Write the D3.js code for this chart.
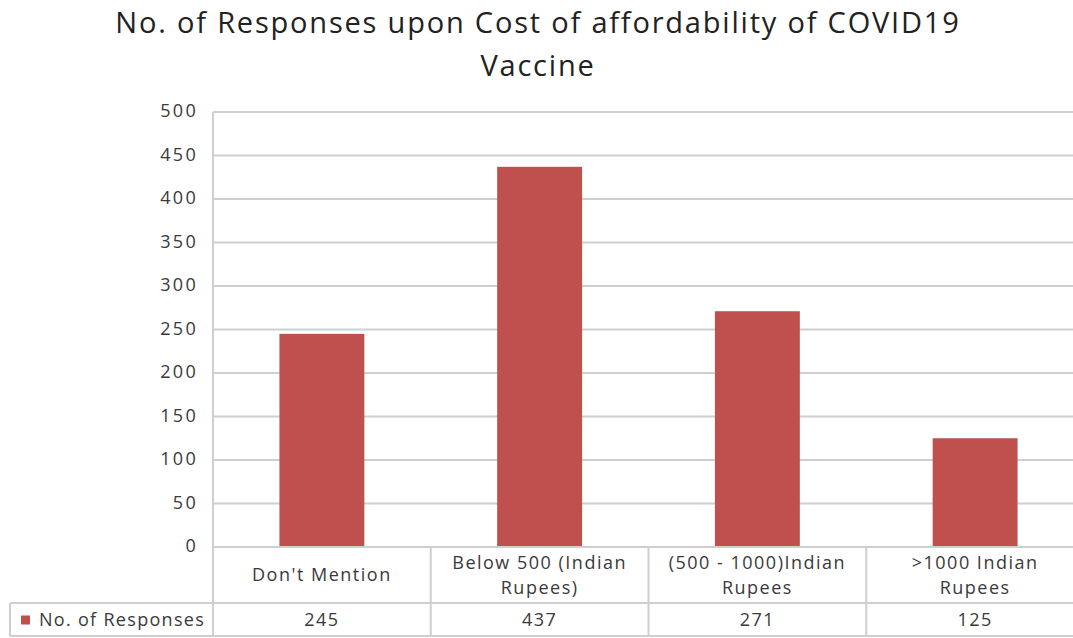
<!DOCTYPE html>
<html>
<head>
<meta charset="utf-8">
<script src="https://cdn.jsdelivr.net/npm/d3@7"></script>
<style>
  body { margin: 0; background: #fff; }
  svg { display: block; font-family: "Open Sans", sans-serif; }
</style>
</head>
<body>
<div class="chart"></div>
<script>
const WIDTH = 1073;
const HEIGHT = 638;

// data
var categories = [["Don't Mention"], ["Below 500 (Indian", "Rupees)"], ["(500 - 1000)Indian", "Rupees"], [">1000 Indian", "Rupees"]];
var values = [245, 437, 271, 125];
var seriesName = "No. of Responses";
var yTicks = [0, 50, 100, 150, 200, 250, 300, 350, 400, 450, 500];
var titleLines = ["No. of Responses upon Cost of affordability of COVID19", "Vaccine"];

var plotLeft = 213, plotRight = 1084, plotTop = 112, plotBottom = 547;
var tableMid = 603, tableBottom = 636, legendLeft = 10;
var gridColor = "#cfcfcf";
var textColor = "#3a3a3a";
var barColor = "#c0504d";

var svg = d3.select('.chart').append('svg')
    .attr('width', WIDTH)
    .attr('height', HEIGHT);

var x = d3.scaleBand()
    .domain(d3.range(values.length))
    .range([plotLeft, plotRight])
    .padding(0);

var y = d3.scaleLinear()
    .domain([0, 500])
    .range([plotBottom, plotTop]);

// title
svg.append("g").selectAll("text")
    .data(titleLines)
    .enter().append("text")
    .attr("x", 538)
    .attr("y", function (d, i) { return 33 + i * 43; })
    .attr("text-anchor", "middle")
    .attr("font-size", 29)
    .attr("letter-spacing", 1.8)
    .attr("fill", "#222")
    .text(function (d) { return d; });

// gridlines
svg.append("g").selectAll("line")
    .data(yTicks.slice(1))
    .enter().append("line")
    .attr("x1", plotLeft).attr("x2", plotRight)
    .attr("y1", function (d) { return y(d); })
    .attr("y2", function (d) { return y(d); })
    .attr("stroke", gridColor)
    .attr("stroke-width", 2);

// y tick labels
svg.append("g").selectAll("text")
    .data(yTicks)
    .enter().append("text")
    .attr("x", 198)
    .attr("y", function (d) { return y(d); })
    .attr("dy", "0.3em")
    .attr("text-anchor", "end")
    .attr("font-size", 18)
    .attr("letter-spacing", 2.3)
    .attr("fill", textColor)
    .text(function (d) { return d; });

// bars
svg.append("g").selectAll("rect")
    .data(values)
    .enter().append("rect")
    .attr("x", function (d, i) { return x(i) + x.bandwidth() * 0.305; })
    .attr("width", x.bandwidth() * 0.39)
    .attr("y", function (d) { return y(d); })
    .attr("height", function (d) { return y(0) - y(d); })
    .attr("fill", barColor);

// data table lines
var lines = svg.append("g")
    .attr("stroke", gridColor)
    .attr("stroke-width", 2);

lines.append("line").attr("x1", plotLeft).attr("x2", plotRight).attr("y1", plotBottom).attr("y2", plotBottom);
lines.append("line").attr("x1", legendLeft).attr("x2", plotRight).attr("y1", tableMid).attr("y2", tableMid);
lines.append("line").attr("x1", legendLeft).attr("x2", plotRight).attr("y1", tableBottom).attr("y2", tableBottom);
lines.append("line").attr("x1", legendLeft).attr("x2", legendLeft).attr("y1", tableMid).attr("y2", tableBottom);
lines.append("line").attr("x1", plotLeft).attr("x2", plotLeft).attr("y1", plotTop).attr("y2", tableBottom);
lines.selectAll(".sep")
    .data(d3.range(1, values.length))
    .enter().append("line")
    .attr("x1", function (d) { return x(d); })
    .attr("x2", function (d) { return x(d); })
    .attr("y1", plotBottom).attr("y2", tableBottom);

// category labels
var cat = svg.append("g").selectAll("text")
    .data(categories)
    .enter().append("text")
    .attr("text-anchor", "middle")
    .attr("font-size", 18)
    .attr("letter-spacing", 1.5)
    .attr("fill", textColor)
    .attr("transform", function (d, i) {
        var cy = (plotBottom + tableMid) / 2 - (d.length - 1) * 12.5;
        return "translate(" + (x(i) + x.bandwidth() / 2) + "," + cy + ")";
    });

cat.selectAll("tspan")
    .data(function (d) { return d; })
    .enter().append("tspan")
    .attr("x", 0)
    .attr("y", function (d, i) { return i * 25; })
    .attr("dy", "0.35em")
    .text(function (d) { return d; });

// legend key + values row
var rowY = (tableMid + tableBottom) / 2;
svg.append("rect")
    .attr("x", 21).attr("y", rowY - 4)
    .attr("width", 9).attr("height", 9)
    .attr("fill", barColor);

svg.append("text")
    .attr("x", 39).attr("y", rowY)
    .attr("dy", "0.35em")
    .attr("font-size", 18)
    .attr("letter-spacing", 1.3)
    .attr("fill", textColor)
    .text(seriesName);

svg.append("g").selectAll("text")
    .data(values)
    .enter().append("text")
    .attr("x", function (d, i) { return x(i) + x.bandwidth() / 2; })
    .attr("y", rowY)
    .attr("dy", "0.35em")
    .attr("text-anchor", "middle")
    .attr("font-size", 18)
    .attr("letter-spacing", 1.5)
    .attr("fill", textColor)
    .text(function (d) { return d; });
</script>
</body>
</html>
